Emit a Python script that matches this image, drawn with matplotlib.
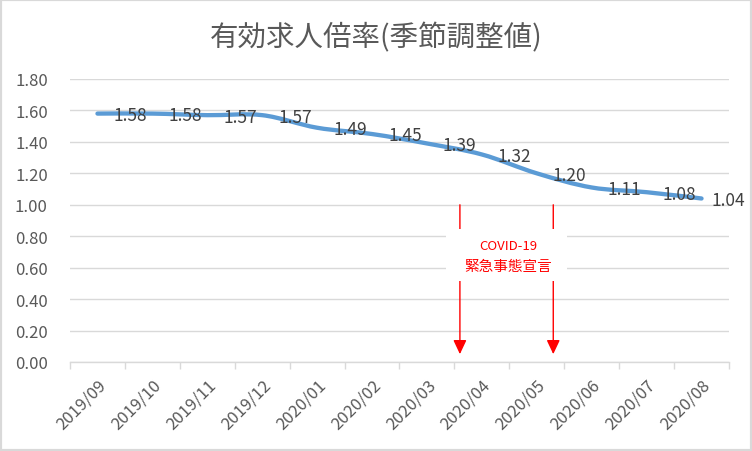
import numpy as np
import matplotlib.pyplot as plt
from matplotlib.path import Path
from matplotlib.patches import PathPatch, Rectangle
from datetime import date

plt.rcParams['font.family'] = ['Noto Sans CJK JP', 'DejaVu Sans']

months = ['2019/09', '2019/10', '2019/11', '2019/12', '2020/01', '2020/02',
          '2020/03', '2020/04', '2020/05', '2020/06', '2020/07', '2020/08']
ratio = [1.58, 1.58, 1.57, 1.57, 1.49, 1.45, 1.39, 1.32, 1.20, 1.11, 1.08, 1.04]
# state of emergency: declared / lifted
events = [date(2020, 4, 4), date(2020, 5, 25)]
event_text = ['COVID-19', '緊急事態宣言']

grey = '#595959'
grid = '#D9D9D9'
red = '#FF0000'


def smooth_path(xs, ys):
    # Excel-like smoothed line (cubic bezier through the points)
    p = np.column_stack([xs, ys]).astype(float)
    n = len(p)
    verts = [p[0]]
    codes = [Path.MOVETO]
    for i in range(n - 1):
        prev = p[max(i - 1, 0)]
        nxt = p[min(i + 2, n - 1)]
        c1 = p[i] + (p[i + 1] - prev) / 6
        c2 = p[i + 1] - (nxt - p[i]) / 6
        verts += [c1, c2, p[i + 1]]
        codes += [Path.CURVE4] * 3
    return Path(verts, codes)


def month_pos(d):
    # position on category axis: month index + fraction of month
    idx = months.index(f'{d.year}/{d.month:02d}')
    return idx - 0.5 + (d.day - 1) / 30


fig = plt.figure(figsize=(7.52, 4.52), dpi=100)
fig.patch.set_facecolor('white')
ax = fig.add_axes([70 / 752, 89 / 452, 659 / 752, 283 / 452])

x = np.arange(len(months))
ax.add_patch(PathPatch(smooth_path(x, ratio), fill=False, edgecolor='#5B9BD5',
                       lw=3.1, capstyle='round', joinstyle='round', zorder=3))

for i, v in enumerate(ratio):
    dx = 11.5 if i < len(ratio) - 1 else 7
    ax.annotate(f'{v:.2f}', (i, v), xytext=(dx, -1), textcoords='offset points',
                ha='left', va='center', fontsize=12.5, color='#404040', zorder=4)

# emergency declaration arrows
ex = [month_pos(d) for d in events]
for xe in ex:
    ax.annotate('', xy=(xe, 0.05), xytext=(xe, 1.0),
                arrowprops=dict(arrowstyle='-|>,head_length=0.85,head_width=0.4',
                                color=red, lw=1, shrinkA=0, shrinkB=0,
                                mutation_scale=10), zorder=5)
xc = sum(ex) / 2
ax.add_patch(Rectangle((xc - 1.1, 0.515), 2.2, 0.33, facecolor='white',
                       edgecolor='none', zorder=6))
ax.text(xc + 0.03, 0.738, event_text[0], ha='center', va='center',
        fontsize=9.5, color=red, zorder=7)
ax.text(xc + 0.03, 0.61, event_text[1], ha='center', va='center',
        fontsize=10.5, color=red, zorder=7)

ax.set_xlim(-0.5, len(months) - 0.5)
ax.set_ylim(0, 1.8)
ax.set_yticks(np.arange(0, 1.81, 0.2))
ax.set_yticklabels([f'{t:.2f}' for t in np.arange(0, 1.81, 0.2)])
ax.set_xticks(x)
ax.set_xticklabels(months, rotation=45, ha='right', rotation_mode='anchor')
ax.set_xticks(np.arange(-0.5, len(months), 1), minor=True)
ax.tick_params(axis='x', which='major', length=0, pad=10, labelsize=12,
               labelcolor=grey)
ax.tick_params(axis='x', which='minor', length=5, color=grid, width=1)
ax.tick_params(axis='y', length=0, pad=16, labelsize=12, labelcolor=grey)
ax.grid(axis='y', color=grid, lw=1)
ax.set_axisbelow(True)
for s in ['top', 'right', 'left']:
    ax.spines[s].set_visible(False)
ax.spines['bottom'].set_color(grid)
ax.spines['bottom'].set_linewidth(1)

fig.text(0.5, 1 - 38 / 452, '有効求人倍率(季節調整値)', ha='center', va='center',
         fontsize=20.5, color=grey)
fig.add_artist(Rectangle((0, 0), 1, 1, transform=fig.transFigure, fill=False,
                         edgecolor=grid, lw=3))

fig.savefig('out.png', dpi=100)
